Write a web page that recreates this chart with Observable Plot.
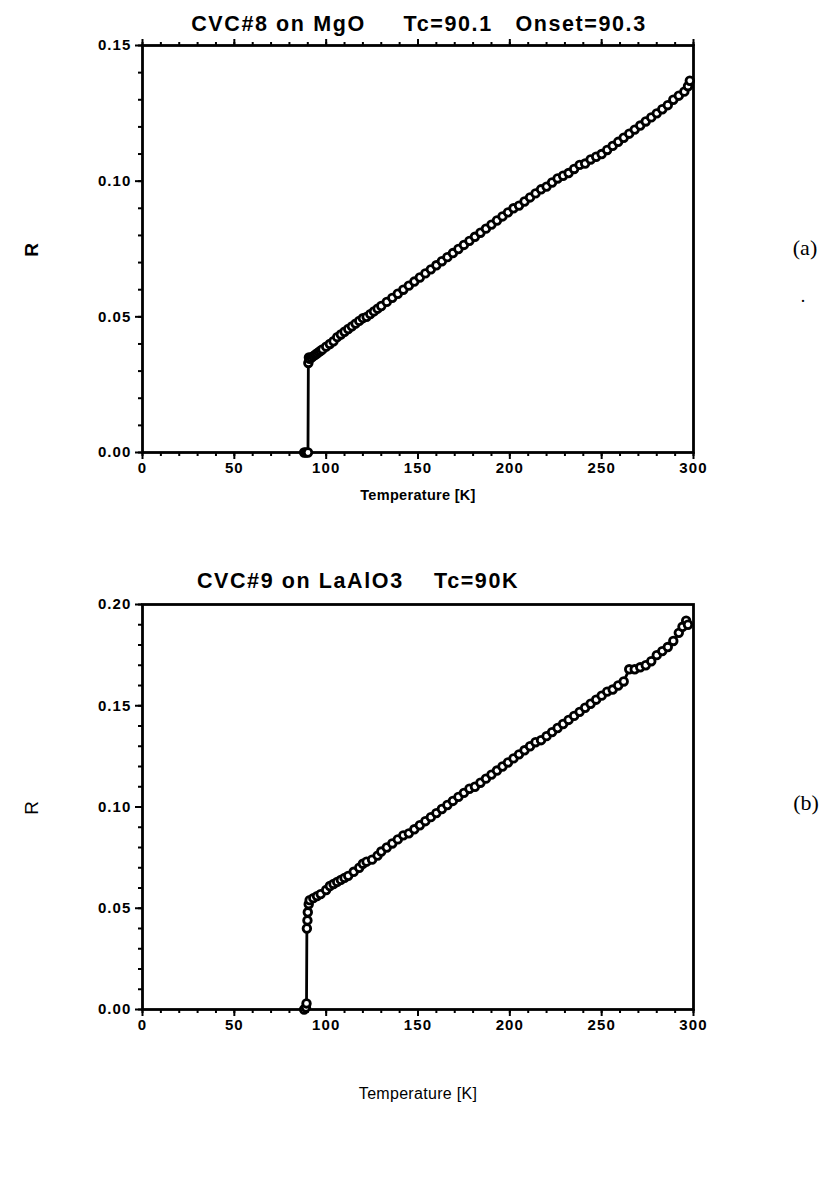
<!DOCTYPE html>
<html>
<head>
<meta charset="utf-8">
<script src="https://cdn.jsdelivr.net/npm/d3@7"></script>
<script src="https://cdn.jsdelivr.net/npm/@observablehq/plot@0.6"></script>
<style>
  html, body { margin: 0; padding: 0; background: #fff; }
  #wrap { position: relative; width: 837px; height: 1182px; overflow: hidden; font-family: "Liberation Sans", Arial, sans-serif; color: #000; }
  .t { position: absolute; white-space: pre; }
  .title { font-weight: bold; font-size: 21.5px; letter-spacing: 1.6px; transform: translateX(-50%); }
  .xlab { font-size: 14px; transform: translateX(-50%); letter-spacing: 0.3px; }
  .ylab { font-size: 19px; transform: translate(-50%, -50%) rotate(-90deg); }
  .tag { font-family: "Liberation Serif", "Times New Roman", serif; font-size: 22px; transform: translate(-50%, -50%); }
  .chart { position: absolute; left: 0; }
  .chart text { font-size: 15px; }
</style>
</head>
<body>
<div id="wrap"></div>
<script>
// ---------- Data ----------
// Panel (a): CVC#8 on MgO
const tempA = [88, 89, 90.1, 90.3, 90.6, 91, 92, 93, 94, 95, 96, 97, 98, 100, 102, 104, 106, 108, 110, 112, 114, 116, 118, 120, 122, 124, 126, 128, 130, 133, 136, 139, 142, 145, 148, 151, 154, 157, 160, 163, 166, 169, 172, 175, 178, 181, 184, 187, 190, 193, 196, 199, 202, 205, 208, 211, 214, 217, 220, 223, 226, 229, 232, 235, 238, 241, 244, 247, 250, 253, 256, 259, 262, 265, 268, 271, 274, 277, 280, 283, 286, 289, 292, 295, 297, 298];
const resA  = [0, 0, 0, 0.033, 0.035, 0.0345, 0.035, 0.0355, 0.036, 0.0365, 0.037, 0.0375, 0.038, 0.039, 0.040, 0.041, 0.0425, 0.0435, 0.0445, 0.0455, 0.0465, 0.0475, 0.0485, 0.0495, 0.050, 0.051, 0.052, 0.053, 0.054, 0.0555, 0.057, 0.0585, 0.060, 0.0615, 0.063, 0.0645, 0.066, 0.0675, 0.069, 0.0705, 0.072, 0.0735, 0.075, 0.0765, 0.078, 0.0795, 0.081, 0.0825, 0.084, 0.0855, 0.087, 0.0885, 0.090, 0.091, 0.0925, 0.094, 0.0955, 0.097, 0.098, 0.0995, 0.101, 0.102, 0.103, 0.1045, 0.106, 0.1065, 0.108, 0.109, 0.110, 0.1115, 0.113, 0.1145, 0.116, 0.1175, 0.119, 0.1205, 0.122, 0.1235, 0.125, 0.1265, 0.128, 0.130, 0.1315, 0.133, 0.135, 0.137];

// Panel (b): CVC#9 on LaAlO3
const tempB = [88, 89, 89.3, 89.5, 89.8, 90, 90.5, 91, 93, 95, 97, 100, 102, 104, 106, 108, 110, 112, 115, 118, 120, 122, 125, 128, 130, 133, 136, 139, 142, 145, 148, 151, 154, 157, 160, 163, 166, 169, 172, 175, 178, 181, 184, 187, 190, 193, 196, 199, 202, 205, 208, 211, 214, 217, 220, 223, 226, 229, 232, 235, 238, 241, 244, 247, 250, 253, 256, 259, 262, 265, 268, 271, 274, 277, 280, 283, 286, 289, 292, 294, 296, 297];
const resB  = [0, 0.001, 0.003, 0.040, 0.044, 0.048, 0.052, 0.054, 0.055, 0.056, 0.057, 0.059, 0.061, 0.062, 0.063, 0.064, 0.065, 0.066, 0.068, 0.070, 0.072, 0.073, 0.074, 0.076, 0.078, 0.080, 0.082, 0.084, 0.086, 0.087, 0.089, 0.091, 0.093, 0.095, 0.097, 0.099, 0.101, 0.103, 0.105, 0.107, 0.109, 0.110, 0.112, 0.114, 0.116, 0.118, 0.120, 0.122, 0.124, 0.126, 0.128, 0.130, 0.132, 0.133, 0.135, 0.137, 0.139, 0.141, 0.143, 0.145, 0.147, 0.149, 0.151, 0.153, 0.155, 0.157, 0.158, 0.160, 0.162, 0.168, 0.168, 0.169, 0.170, 0.172, 0.175, 0.177, 0.179, 0.182, 0.186, 0.189, 0.192, 0.190];

// Tick labels
const xMajor = [0, 50, 100, 150, 200, 250, 300];
const xMinor = [0, 10, 20, 30, 40, 50, 60, 70, 80, 90, 100, 110, 120, 130, 140, 150, 160, 170, 180, 190, 200, 210, 220, 230, 240, 250, 260, 270, 280, 290, 300];
const yMajorA = [0, 0.05, 0.10, 0.15];
const yMinorA = [0, 0.01, 0.02, 0.03, 0.04, 0.05, 0.06, 0.07, 0.08, 0.09, 0.10, 0.11, 0.12, 0.13, 0.14, 0.15];
const yMajorB = [0, 0.05, 0.10, 0.15, 0.20];
const yMinorB = [0, 0.01, 0.02, 0.03, 0.04, 0.05, 0.06, 0.07, 0.08, 0.09, 0.10, 0.11, 0.12, 0.13, 0.14, 0.15, 0.16, 0.17, 0.18, 0.19, 0.20];

const titleA = "CVC#8 on MgO     Tc=90.1   Onset=90.3";
const titleB = "CVC#9 on LaAlO3    Tc=90K";
const xLabel = "Temperature [K]";
const yLabel = "R";

// ---------- Build ----------
const wrap = document.getElementById("wrap");
function addText(cls, txt, x, y, extra) {
  const d = document.createElement("div");
  d.className = "t " + cls;
  d.textContent = txt;
  d.style.left = x + "px";
  d.style.top = y + "px";
  if (extra) Object.assign(d.style, extra);
  wrap.appendChild(d);
  return d;
}

function panel(temps, res, yMax, yMajor, yMinor, topTicks, top, height, mTop, mBottom) {
  const data = temps.map((t, i) => ({T: t, R: res[i]}));
  const lab = {fontWeight: "bold", fill: "black", fontSize: 15};
  const marks = [
    Plot.axisX({ticks: xMinor, tickSize: 4, text: null, strokeWidth: 2, label: null}),
    Plot.axisX({ticks: xMajor, tickSize: 7, tickPadding: 3, strokeWidth: 2, label: null,
      tickFormat: d => String(d), ...lab}),
    Plot.axisY({ticks: yMinor, tickSize: 4, text: null, strokeWidth: 2, label: null}),
    Plot.axisY({ticks: yMajor, tickSize: 7, tickPadding: 4, strokeWidth: 2, label: null,
      tickFormat: d3.format(".2f"), ...lab}),
  ];
  if (topTicks) {
    marks.push(Plot.axisX({anchor: "top", ticks: xMinor, tickSize: 4, text: null, strokeWidth: 2, label: null}));
    marks.push(Plot.axisX({anchor: "top", ticks: xMajor, tickSize: 7, text: null, strokeWidth: 2, label: null}));
  }
  marks.push(
    Plot.frame({stroke: "black", strokeWidth: 2.8}),
    Plot.line(data, {x: "T", y: "R", stroke: "black", strokeWidth: 2.8}),
    Plot.dot(data, {x: "T", y: "R", r: 3.8, stroke: "black", strokeWidth: 2.8, fill: "white"})
  );
  const svg = Plot.plot({
    width: 837,
    height: height,
    marginLeft: 142,
    marginRight: 144,
    marginTop: mTop,
    marginBottom: mBottom,
    x: {domain: [0, 300]},
    y: {domain: [0, yMax]},
    style: {fontFamily: "'Liberation Sans', Arial, sans-serif", fontSize: "15px", color: "black", background: "white", letterSpacing: "1.1px", overflow: "visible"},
    marks
  });
  svg.classList.add("chart");
  svg.style.top = top + "px";
  wrap.appendChild(svg);
}

// Panel (a)
panel(tempA, resA, 0.15, yMajorA, yMinorA, true, 0, 520, 45, 68);
addText("title", titleA, 419, 12);
addText("xlab", xLabel, 418, 487, {fontWeight: "bold", fontSize: "14.5px"});
addText("ylab", yLabel, 32, 250, {fontWeight: "bold"});
addText("tag", "(a)", 805, 248);
addText("tag", ".", 803, 296, {fontSize: "18px"});

// Panel (b)
panel(tempB, resB, 0.20, yMajorB, yMinorB, false, 560, 520, 44, 71);
addText("title", titleB, 358, 569);
addText("xlab", xLabel, 418, 1085, {fontWeight: "normal", fontSize: "16px"});
addText("ylab", yLabel, 32, 808, {fontWeight: "normal"});
addText("tag", "(b)", 806, 803);
</script>
</body>
</html>
